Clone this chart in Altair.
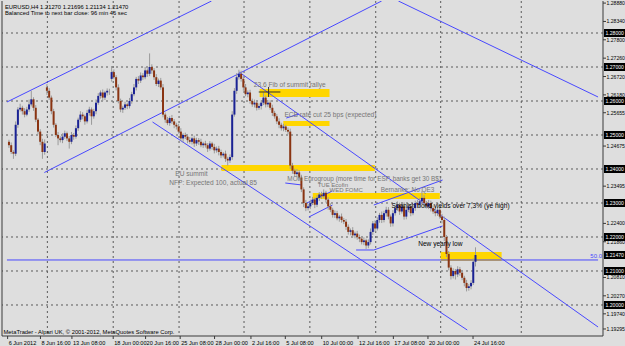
import altair as alt
import pandas as pd

# ---------------- data ----------------
close = [
 1.2470, 1.2450, 1.2445, 1.2530, 1.2575, 1.2580, 1.2570, 1.2560, 1.2575, 1.2590,
 1.2605, 1.2580, 1.2545, 1.2510, 1.2480, 1.2450, 1.2475, 1.2630, 1.2610, 1.2570,
 1.2530, 1.2500, 1.2490, 1.2485, 1.2495, 1.2505, 1.2490, 1.2480, 1.2500, 1.2495,
 1.2520, 1.2545, 1.2560, 1.2555, 1.2540, 1.2565, 1.2575, 1.2555, 1.2570, 1.2595,
 1.2615, 1.2625, 1.2610, 1.2625, 1.2630, 1.2630, 1.2685, 1.2670, 1.2640, 1.2600,
 1.2575, 1.2580, 1.2590, 1.2585, 1.2600, 1.2620, 1.2640, 1.2665, 1.2660, 1.2675,
 1.2670, 1.2690, 1.2680, 1.2700, 1.2690, 1.2670, 1.2650, 1.2660, 1.2640, 1.2560,
 1.2545, 1.2535, 1.2550, 1.2540, 1.2530, 1.2525, 1.2510, 1.2490, 1.2500, 1.2495,
 1.2485, 1.2480, 1.2490, 1.2475, 1.2485, 1.2480, 1.2470, 1.2475, 1.2470, 1.2460,
 1.2475, 1.2465, 1.2455, 1.2460, 1.2450, 1.2440, 1.2445, 1.2430, 1.2425, 1.2435,
 1.2560, 1.2630, 1.2670, 1.2680, 1.2665, 1.2640, 1.2620, 1.2625, 1.2600, 1.2590,
 1.2595, 1.2580, 1.2585, 1.2595, 1.2610, 1.2590, 1.2595, 1.2580, 1.2565, 1.2555,
 1.2540, 1.2530, 1.2520, 1.2525, 1.2515, 1.2510, 1.2410, 1.2395, 1.2385, 1.2390,
 1.2375, 1.2340, 1.2300, 1.2285, 1.2290, 1.2300, 1.2310, 1.2295, 1.2315, 1.2325,
 1.2320, 1.2330, 1.2310, 1.2290, 1.2280, 1.2265, 1.2270, 1.2255, 1.2260, 1.2250,
 1.2245, 1.2230, 1.2215, 1.2220, 1.2205, 1.2210, 1.2200, 1.2195, 1.2185, 1.2190,
 1.2175, 1.2185, 1.2215, 1.2240, 1.2225, 1.2250, 1.2265, 1.2250, 1.2270, 1.2280,
 1.2260, 1.2240, 1.2270, 1.2285, 1.2295, 1.2275, 1.2290, 1.2260, 1.2280, 1.2290,
 1.2270, 1.2285, 1.2300, 1.2295, 1.2305, 1.2315, 1.2300, 1.2290, 1.2300, 1.2285,
 1.2275, 1.2270, 1.2280, 1.2260, 1.2250, 1.2200, 1.2150, 1.2110, 1.2085, 1.2100,
 1.2090, 1.2105, 1.2095, 1.2080, 1.2065, 1.2050, 1.2055, 1.2065, 1.2127, 1.2147,
]
# upper / lower wick lengths in pips
up_wick = [
 6, 8, 5, 10, 7, 12, 6, 9, 8, 14,
 25, 6, 8, 5, 7, 9, 12, 10, 8, 6,
 7, 5, 9, 6, 10, 8, 5, 7, 9, 6,
 8, 6, 10, 7, 5, 9, 8, 6, 7, 10,
 8, 6, 9, 5, 7, 6, 15, 8, 6, 9,
 7, 6, 8, 5, 9, 7, 10, 6, 8, 9,
 7, 10, 6, 40, 8, 7, 9, 6, 8, 10,
 6, 8, 5, 9, 7, 6, 8, 10, 5, 7,
 6, 9, 5, 8, 7, 6, 9, 5, 8, 6,
 7, 5, 9, 6, 8, 7, 5, 9, 6, 8,
 10, 8, 12, 12, 9, 7, 10, 6, 8, 7,
 9, 6, 8, 7, 15, 6, 8, 7, 9, 6,
 7, 9, 6, 8, 5, 7, 9, 8, 6, 10,
 7, 8, 6, 9, 7, 10, 8, 6, 9, 7,
 8, 10, 6, 7, 9, 6, 8, 7, 5, 9,
 6, 8, 7, 5, 9, 6, 8, 7, 6, 9,
 5, 8, 10, 7, 9, 8, 6, 10, 7, 9,
 8, 6, 9, 7, 10, 6, 8, 12, 7, 9,
 6, 8, 7, 9, 10, 20, 8, 6, 9, 7,
 8, 6, 9, 7, 8, 10, 6, 9, 7, 8,
 6, 9, 7, 8, 6, 9, 7, 8, 10, 22.6,
]
lo_wick = [
 8, 6, 15, 7, 9, 6, 10, 8, 5, 7,
 6, 9, 7, 8, 10, 20, 8, 12, 7, 9,
 8, 6, 20, 7, 9, 6, 8, 20, 7, 9,
 6, 8, 7, 9, 10, 6, 8, 25, 7, 9,
 6, 8, 10, 7, 9, 12, 8, 6, 9, 7,
 8, 10, 6, 9, 7, 8, 6, 9, 10, 7,
 8, 6, 9, 7, 10, 8, 6, 9, 7, 8,
 9, 6, 8, 7, 10, 9, 6, 8, 12, 7,
 9, 6, 8, 10, 7, 9, 6, 8, 7, 10,
 6, 8, 9, 7, 10, 8, 6, 9, 15, 7,
 8, 6, 9, 7, 8, 10, 6, 9, 8, 7,
 9, 8, 6, 10, 7, 9, 8, 6, 9, 7,
 8, 10, 7, 9, 6, 8, 10, 9, 7, 8,
 10, 8, 12, 9, 7, 8, 6, 10, 7, 9,
 8, 6, 9, 10, 7, 8, 9, 6, 10, 8,
 7, 9, 8, 10, 6, 9, 8, 10, 7, 9,
 10, 8, 7, 9, 10, 6, 8, 9, 7, 10,
 8, 10, 9, 7, 8, 10, 6, 9, 8, 7,
 9, 6, 8, 10, 7, 8, 9, 6, 8, 10,
 7, 9, 8, 6, 10, 12, 9, 8, 10, 7,
 15, 8, 9, 7, 10, 10, 8, 9, 6, 13.6,
]
first_open = 1.2480
gap_open = {17: 1.2640, 46: 1.2665}

header_lines = ["EURUSD,H4  1.21270 1.21696 1.21134 1.21470",
                "Balanced Time to next bar close: 96 min 46 sec"]
footer = "MetaTrader - Alpari UK, \u00a9 2001-2012, MetaQuotes Software Corp."

time_labels = ["6 Jun 2012", "8 Jun 16:00", "13 Jun 08:00", "18 Jun 00:00", "20 Jun 16:00",
               "25 Jun 08:00", "28 Jun 00:00", "2 Jul 16:00", "5 Jul 08:00", "10 Jul 00:00",
               "12 Jul 16:00", "17 Jul 08:00", "20 Jul 00:00", "24 Jul 16:00"]
time_pos = [-0.6, 14.1, 28.2, 46.7, 61.2, 76.7, 92.1, 108.4, 123.8, 140.1, 156.4, 172.2, 187.7, 207.9]

price_labels = [1.28880, 1.28340, 1.27800, 1.27260, 1.26720, 1.26180, 1.25655,
                1.24675, 1.23495, 1.22400, 1.21860, 1.20810, 1.20270, 1.19740, 1.19295]
grid_levels = [1.20, 1.21, 1.22, 1.23, 1.24, 1.25, 1.26, 1.27, 1.28]
current_price = 1.21470
vgrid_pos = [17.2, 46.7, 76.2, 105.3, 134.8, 164.3, 193.4, 229.5]

# drawn objects (bar index, price)
tl_x1 = [-0.9, 15.86, 103.08, 64.32, 174.45, 163.44, 163.44, 155.51, 133.48, 134.36, 124.23, 123.79, -0.9]
tl_p1 = [1.25971, 1.23897, 1.26853, 1.25382, 1.28941, 1.22941, 1.21618, 1.21618, 1.23000, 1.22588, 1.25500, 1.23588, 1.21324]
tl_x2 = [90.75, 166.96, 263.9, 205.29, 263.9, 194.27, 194.27, 163.44, 144.93, 144.93, 129.96, 131.28, 263.9]
tl_p2 = [1.28941, 1.28941, 1.19353, 1.19265, 1.26118, 1.23676, 1.22324, 1.21618, 1.23353, 1.22941, 1.25618, 1.23529, 1.21324]
fib_level_label = "50.0"

band_x1 = [112.3, 122.9, 95.2, 136.1, 193.4]
band_x2 = [143.6, 143.6, 163.9, 193.0, 220.7]
band_top = [1.26353, 1.25412, 1.24118, 1.23294, 1.21559]
band_bot = [1.26118, 1.25265, 1.23941, 1.23118, 1.21294]

fib_x1, fib_x2, fib_p = 111.9, 121.6, 1.26265
fib_tick_x, fib_tick_p1, fib_tick_p2 = 116.3, 1.26412, 1.26118

notes = ["23.6 Fib of summit rallye", "ECB rate cut 25 bps (expected)", "EU summit",
         "NFP: Expected 100, actual 85", "MON Eurogroup (more time for ESP, banks get 30 B$)",
         "TUE Ecofin", "WED FOMC", "Bernanke: No QE3",
         "Spanish bond yields over 7,3% (ye high)", "New yearly low"]
note_x = [109.7, 123.4, 74.5, 71.8, 124.7, 138.3, 143.6, 166.5, 171.4, 183.3]
note_p = [1.26412, 1.25529, 1.23794, 1.23529, 1.23647, 1.23456, 1.23309, 1.23324, 1.22853, 1.21735]
note_size = [6.6, 6.6, 6.6, 6.6, 6.4, 6.0, 6.0, 6.4, 6.6, 6.6]
note_dark = [False, False, False, False, False, False, False, False, True, True]

# ---------------- build tables ----------------
rows = []
for k, c in enumerate(close):
    if k == 0:
        o = first_open
    elif k in gap_open:
        o = gap_open[k]
    else:
        o = close[k - 1]
    hi = max(o, c) + up_wick[k] / 10000
    lo = min(o, c) - lo_wick[k] / 10000
    rows.append({"i": k, "open": o, "close": c, "high": hi, "low": lo,
                 "dir": "up" if c >= o else "down"})
candles = pd.DataFrame(rows)

BG = "#dedede"
BLUE = "#4848ff"
FONT = "Liberation Sans"
W, H = 601, 335

xs = alt.Scale(domain=[-0.8811, 263.877], nice=False, zero=False)
ys = alt.Scale(domain=[1.190882, 1.289412], nice=False, zero=False)
X = lambda f: alt.X(f, type="quantitative", scale=xs, axis=None)
Y = lambda f: alt.Y(f, type="quantitative", scale=ys, axis=None)

hgrid = alt.Chart(pd.DataFrame({"p": grid_levels})).mark_rule(
    color="#5a5a5a", strokeDash=[2, 3], strokeWidth=1).encode(y=Y("p"))
vgrid = alt.Chart(pd.DataFrame({"i": vgrid_pos})).mark_rule(
    color="#5a5a5a", strokeDash=[2, 3], strokeWidth=1).encode(x=X("i"))

bands = alt.Chart(pd.DataFrame({"x1": band_x1, "x2": band_x2, "t": band_top, "b": band_bot})).mark_rect(
    color="#ffd600").encode(x=X("x1"), x2="x2", y=Y("t"), y2="b")

wicks = alt.Chart(candles).mark_rule(color="#9a9a9a", strokeWidth=1).encode(
    x=X("i"), y=Y("low"), y2="high")
bodies = alt.Chart(candles).mark_bar(size=2).encode(
    x=X("i"), y=Y("open"), y2="close",
    color=alt.Color("dir:N", scale=alt.Scale(domain=["up", "down"], range=["#1a2294", "#8a3412"]),
                    legend=None))

tlines = alt.Chart(pd.DataFrame({"x1": tl_x1, "p1": tl_p1, "x2": tl_x2, "p2": tl_p2})).mark_rule(
    color=BLUE, strokeWidth=1, clip=True).encode(x=X("x1"), y=Y("p1"), x2="x2", y2="p2")

fibline = alt.Chart(pd.DataFrame({"x1": [fib_x1, fib_tick_x], "x2": [fib_x2, fib_tick_x],
                                  "p1": [fib_p, fib_tick_p1], "p2": [fib_p, fib_tick_p2]})).mark_rule(
    color="#303030", strokeWidth=1).encode(x=X("x1"), x2="x2", y=Y("p1"), y2="p2")

fiblabel = alt.Chart(pd.DataFrame({"p": [tl_p1[-1]], "t": [fib_level_label]})).mark_text(
    align="right", baseline="alphabetic", dy=-2, fontSize=6, font=FONT, color=BLUE).encode(
    x=alt.value(W - 1), y=Y("p"), text="t:N")

ndf = pd.DataFrame({"x": note_x, "p": note_p, "t": notes, "s": note_size,
                    "c": ["#000000" if d else "#767676" for d in note_dark]})
notes_layer = alt.Chart(ndf).mark_text(align="left", baseline="alphabetic", font=FONT).encode(
    x=X("x"), y=Y("p"), text="t:N", color=alt.Color("c:N", scale=None),
    size=alt.Size("s:Q", scale=None))

head = alt.Chart(pd.DataFrame({"t": header_lines, "yy": [7.5, 13.8]})).mark_text(
    align="left", baseline="alphabetic", fontSize=5.8, font=FONT, color="#000000").encode(
    x=alt.value(3), y=alt.Y("yy:Q", scale=None), text="t:N")
foot = alt.Chart(pd.DataFrame({"t": [footer]})).mark_text(
    align="left", baseline="alphabetic", fontSize=5.8, font=FONT, color="#000000").encode(
    x=alt.value(1.5), y=alt.value(H - 2), text="t:N")

# frame lines
frame = alt.Chart(pd.DataFrame({"x1": [0, W, 0], "x2": [0, W, W], "y1": [0, 0, H], "y2": [H, H, H]})).mark_rule(
    color="#3a3a3a", strokeWidth=1).encode(
    x=alt.X("x1:Q", scale=None), x2="x2", y=alt.Y("y1:Q", scale=None), y2="y2")

# time axis
tdf = pd.DataFrame({"i": time_pos, "t": time_labels})
tticks = alt.Chart(tdf).mark_rule(color="#3a3a3a").encode(
    x=X("i"), y=alt.value(H), y2=alt.value(H + 3))
tlab = alt.Chart(tdf).mark_text(align="left", baseline="alphabetic", dx=1, fontSize=5.6,
                                font=FONT, color="#000000").encode(
    x=X("i"), y=alt.value(H + 9), text="t:N")

# price axis
pdf = pd.DataFrame({"p": price_labels, "t": [f"{v:.5f}" for v in price_labels]})
pticks = alt.Chart(pdf).mark_rule(color="#3a3a3a").encode(
    x=alt.value(W), x2=alt.value(W + 3), y=Y("p"))
plab = alt.Chart(pdf).mark_text(align="left", baseline="middle", fontSize=5.1, font=FONT,
                                color="#000000").encode(x=alt.value(W + 3.5), y=Y("p"), text="t:N")
box_vals = grid_levels + [current_price]
bdf = pd.DataFrame({"p": box_vals, "t": [f"{v:.5f}" for v in box_vals],
                    "top": [v + 0.00118 for v in box_vals], "bot": [v - 0.00118 for v in box_vals]})
boxes = alt.Chart(bdf).mark_rect(color="#000000").encode(
    x=alt.value(W + 1), x2=alt.value(W + 24), y=Y("top"), y2="bot")
boxlab = alt.Chart(bdf).mark_text(align="left", baseline="middle", fontSize=5.1, font=FONT,
                                  color="#ffffff").encode(x=alt.value(W + 2.5), y=Y("p"), text="t:N")

chart = alt.layer(
    hgrid, vgrid, bands, tlines, wicks, bodies, fibline, fiblabel, notes_layer,
    head, foot, frame, tticks, tlab, pticks, plab, boxes, boxlab
).properties(
    width=W, height=H,
    padding={"left": 2, "top": 1, "right": 22, "bottom": 10},
    autosize=alt.AutoSizeParams(type="none"),
    background=BG,
).configure_view(stroke=None, fill=BG)

chart.save("out.html", embed_options={"renderer": "svg", "actions": False})
